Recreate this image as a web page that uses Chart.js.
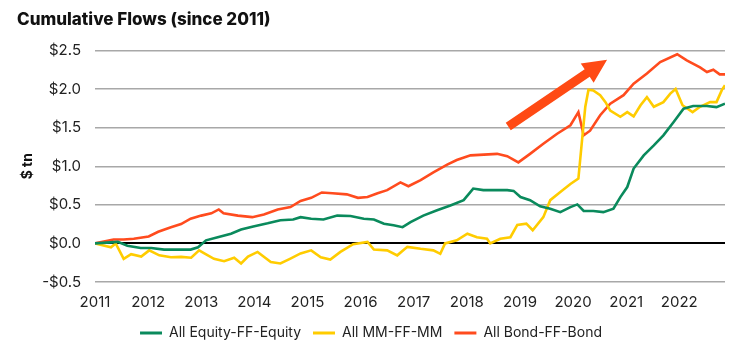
<!DOCTYPE html>
<html>
<head>
<meta charset="utf-8">
<script src="https://cdn.jsdelivr.net/npm/chart.js@4"></script>
<style>
  html, body { margin: 0; padding: 0; background: #fff; }
  #wrap { width: 740px; height: 356px; position: relative; }
</style>
</head>
<body>
<div id="wrap"><canvas id="c" width="740" height="356"></canvas></div>
<script>
// ---- Data (decimal years, $ tn) ----
const seriesNames = ['All Equity-FF-Equity', 'All MM-FF-MM', 'All Bond-FF-Bond'];

const equityYears = [2011.0, 2011.43, 2011.61, 2011.86, 2012.06, 2012.30, 2012.56, 2012.80, 2012.94, 2013.09, 2013.31, 2013.56, 2013.75, 2013.98, 2014.25, 2014.49, 2014.73, 2014.87, 2015.07, 2015.30, 2015.56, 2015.81, 2016.06, 2016.25, 2016.44, 2016.62, 2016.79, 2016.94, 2017.18, 2017.44, 2017.69, 2017.94, 2018.12, 2018.31, 2018.50, 2018.76, 2018.88, 2019.01, 2019.19, 2019.38, 2019.57, 2019.76, 2019.95, 2020.08, 2020.20, 2020.38, 2020.57, 2020.76, 2020.89, 2021.02, 2021.14, 2021.33, 2021.52, 2021.70, 2021.89, 2022.08, 2022.26, 2022.52, 2022.70, 2022.86];
const equityValues = [0, 0.02, -0.03, -0.06, -0.06, -0.08, -0.08, -0.08, -0.05, 0.04, 0.08, 0.125, 0.18, 0.22, 0.26, 0.30, 0.31, 0.34, 0.32, 0.31, 0.36, 0.355, 0.32, 0.31, 0.255, 0.235, 0.21, 0.275, 0.36, 0.43, 0.49, 0.56, 0.71, 0.69, 0.69, 0.69, 0.68, 0.60, 0.56, 0.48, 0.45, 0.405, 0.47, 0.505, 0.42, 0.42, 0.405, 0.45, 0.60, 0.73, 0.97, 1.14, 1.27, 1.40, 1.57, 1.745, 1.78, 1.78, 1.765, 1.81];

const mmYears = [2011.0, 2011.30, 2011.39, 2011.54, 2011.68, 2011.87, 2012.02, 2012.21, 2012.43, 2012.62, 2012.81, 2012.96, 2013.05, 2013.24, 2013.43, 2013.62, 2013.75, 2013.88, 2014.06, 2014.31, 2014.49, 2014.67, 2014.87, 2015.07, 2015.25, 2015.43, 2015.62, 2015.86, 2016.13, 2016.25, 2016.50, 2016.69, 2016.88, 2017.13, 2017.37, 2017.50, 2017.59, 2017.81, 2018.01, 2018.19, 2018.38, 2018.44, 2018.63, 2018.82, 2018.95, 2019.12, 2019.24, 2019.44, 2019.57, 2019.76, 2019.95, 2020.10, 2020.18, 2020.23, 2020.29, 2020.38, 2020.51, 2020.61, 2020.70, 2020.89, 2021.02, 2021.14, 2021.27, 2021.39, 2021.52, 2021.70, 2021.83, 2021.93, 2022.06, 2022.25, 2022.39, 2022.58, 2022.70, 2022.80, 2022.86];
const mmValues = [0, -0.05, 0.0, -0.20, -0.14, -0.17, -0.09, -0.155, -0.18, -0.175, -0.185, -0.09, -0.125, -0.20, -0.23, -0.185, -0.26, -0.17, -0.11, -0.24, -0.26, -0.20, -0.13, -0.09, -0.18, -0.21, -0.11, -0.01, 0.02, -0.08, -0.09, -0.155, -0.045, -0.07, -0.09, -0.135, 0.0, 0.04, 0.125, 0.08, 0.06, 0.0, 0.06, 0.08, 0.24, 0.255, 0.17, 0.34, 0.56, 0.665, 0.77, 0.84, 1.42, 1.77, 1.99, 1.98, 1.92, 1.83, 1.72, 1.64, 1.70, 1.645, 1.79, 1.895, 1.77, 1.83, 1.94, 2.00, 1.79, 1.70, 1.77, 1.83, 1.83, 1.985, 2.05];

const bondYears = [2011.0, 2011.35, 2011.54, 2011.73, 2012.01, 2012.19, 2012.43, 2012.62, 2012.80, 2013.0, 2013.19, 2013.33, 2013.42, 2013.69, 2013.96, 2014.18, 2014.44, 2014.68, 2014.87, 2015.07, 2015.27, 2015.47, 2015.74, 2015.95, 2016.13, 2016.32, 2016.50, 2016.75, 2016.90, 2017.13, 2017.37, 2017.63, 2017.81, 2018.07, 2018.32, 2018.57, 2018.76, 2018.97, 2019.19, 2019.44, 2019.70, 2019.95, 2020.10, 2020.20, 2020.32, 2020.51, 2020.70, 2020.95, 2021.14, 2021.39, 2021.64, 2021.96, 2022.14, 2022.39, 2022.52, 2022.64, 2022.76, 2022.86];
const bondValues = [0, 0.05, 0.05, 0.06, 0.09, 0.15, 0.21, 0.25, 0.32, 0.36, 0.39, 0.44, 0.39, 0.36, 0.34, 0.375, 0.44, 0.47, 0.55, 0.59, 0.66, 0.65, 0.635, 0.59, 0.60, 0.65, 0.69, 0.79, 0.74, 0.82, 0.92, 1.02, 1.08, 1.14, 1.15, 1.16, 1.13, 1.05, 1.16, 1.29, 1.42, 1.53, 1.70, 1.40, 1.46, 1.66, 1.81, 1.92, 2.07, 2.20, 2.35, 2.45, 2.37, 2.28, 2.22, 2.25, 2.19, 2.19];

const xTickYears = [2011, 2012, 2013, 2014, 2015, 2016, 2017, 2018, 2019, 2020, 2021, 2022];
const yTickValues = [-0.5, 0, 0.5, 1.0, 1.5, 2.0, 2.5];

// Annotation arrow in data units
const arrowFrom = { x: 2018.78, y: 1.515 };
const arrowTo = { x: 2020.64, y: 2.38 };

// ---- Styles ----
const FONT = 'Inter, "Noto Sans", "DejaVu Sans", sans-serif';
const GREEN = '#0a8a5c';
const YELLOW = '#ffcc00';
const RED = '#ff4b1e';

function toPoints(xs, ys) { return xs.map((x, i) => ({ x: x, y: ys[i] })); }

const arrowPlugin = {
  id: 'arrow',
  afterDatasetsDraw(chart) {
    const xs = chart.scales.x, ys = chart.scales.y, ctx = chart.ctx;
    const x0 = xs.getPixelForValue(arrowFrom.x), y0 = ys.getPixelForValue(arrowFrom.y);
    const x1 = xs.getPixelForValue(arrowTo.x), y1 = ys.getPixelForValue(arrowTo.y);
    const dx = x1 - x0, dy = y1 - y0, len = Math.hypot(dx, dy);
    const ux = dx / len, uy = dy / len, nx = -uy, ny = ux;
    const shaftHalf = 4.5, headLen = 24, headHalf = 11.5;
    const bx = x1 - ux * headLen, by = y1 - uy * headLen;
    ctx.save();
    ctx.fillStyle = '#ff4a14';
    ctx.beginPath();
    ctx.moveTo(x0 + nx * shaftHalf, y0 + ny * shaftHalf);
    ctx.lineTo(bx + nx * shaftHalf, by + ny * shaftHalf);
    ctx.lineTo(bx + nx * headHalf, by + ny * headHalf);
    ctx.lineTo(x1, y1);
    ctx.lineTo(bx - nx * headHalf, by - ny * headHalf);
    ctx.lineTo(bx - nx * shaftHalf, by - ny * shaftHalf);
    ctx.lineTo(x0 - nx * shaftHalf, y0 - ny * shaftHalf);
    ctx.closePath();
    ctx.fill();
    ctx.restore();
  }
};

const mkDs = (label, xs, ys, color) => ({
  label: label,
  data: toPoints(xs, ys),
  borderColor: color,
  backgroundColor: color,
  borderWidth: 2.6,
  pointRadius: 0,
  tension: 0,
  fill: false
});

new Chart(document.getElementById('c'), {
  type: 'line',
  data: {
    datasets: [
      mkDs(seriesNames[0], equityYears, equityValues, GREEN),
      mkDs(seriesNames[1], mmYears, mmValues, YELLOW),
      mkDs(seriesNames[2], bondYears, bondValues, RED)
    ]
  },
  options: {
    responsive: false,
    animation: false,
    devicePixelRatio: 1,
    layout: { padding: { left: 17, right: 15, top: 0, bottom: 6 } },
    plugins: {
      title: {
        display: true,
        text: 'Cumulative Flows (since 2011)',
        align: 'start',
        color: '#111',
        font: { family: FONT, size: 17, weight: '800' },
        padding: { top: 10, bottom: 20 }
      },
      legend: {
        position: 'bottom',
        labels: {
          color: '#222',
          font: { family: FONT, size: 14 },
          boxWidth: 22,
          boxHeight: 3,
          padding: 12,
          generateLabels(chart) {
            return Chart.defaults.plugins.legend.labels.generateLabels(chart).map(l => Object.assign(l, { lineWidth: 0 }));
          }
        }
      },
      tooltip: { enabled: false }
    },
    scales: {
      x: {
        type: 'linear',
        min: 2011,
        max: 2022.86,
        grid: { display: false, drawTicks: false },
        border: { display: false },
        afterBuildTicks(scale) { scale.ticks = xTickYears.map(v => ({ value: v })); },
        afterFit(scale) { scale.height = 32; },
        ticks: {
          includeBounds: false,
          padding: 11,
          color: '#222',
          font: { family: FONT, size: 15 },
          maxRotation: 0,
          autoSkip: false,
          callback: v => String(v)
        }
      },
      y: {
        min: -0.5,
        max: 2.5,
        afterBuildTicks(scale) { scale.ticks = yTickValues.map(v => ({ value: v })); },
        afterFit(scale) { scale.width = 78; },
        grid: {
          drawTicks: false,
          color: ctx => (ctx.tick && ctx.tick.value === 0) ? '#000' : '#a8a8a8',
          lineWidth: ctx => (ctx.tick && ctx.tick.value === 0) ? 2 : 1.4
        },
        border: { display: false },
        title: {
          display: true,
          text: '$ tn',
          color: '#111',
          font: { family: FONT, size: 14, weight: 'bold' },
          padding: { top: 2, bottom: 0 }
        },
        ticks: {
          padding: 14,
          color: '#222',
          font: { family: FONT, size: 15 },
          callback: v => (v < 0 ? '-$' : '$') + Math.abs(v).toFixed(1)
        }
      }
    }
  },
  plugins: [arrowPlugin]
});
</script>
</body>
</html>
